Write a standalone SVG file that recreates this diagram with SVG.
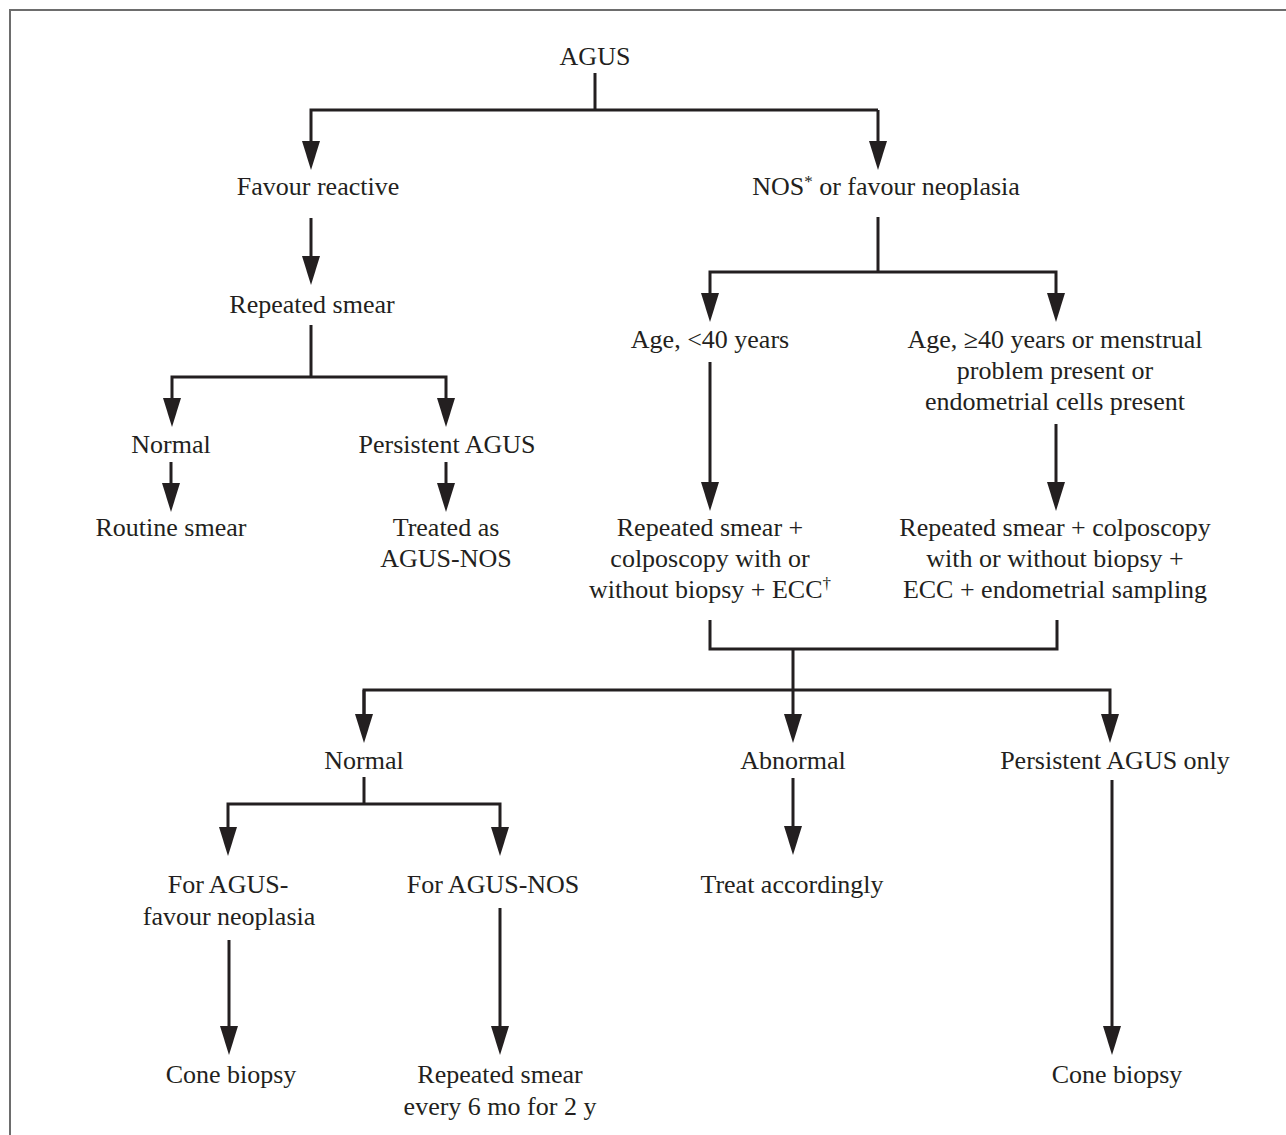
<svg xmlns="http://www.w3.org/2000/svg" width="1286" height="1135" viewBox="0 0 1286 1135">
<style>
text{font-family:"Liberation Serif","Times New Roman",serif;font-size:26px;fill:#231f20;text-anchor:middle}
.c{fill:none;stroke:#231f20;stroke-width:3}
.sup{font-size:17px}
</style>
<defs>
<marker id="ah" viewBox="0 0 29 18" refX="9" refY="9" markerWidth="29" markerHeight="18" markerUnits="userSpaceOnUse" orient="auto">
<path d="M0,0 L29,9 L0,18 z" fill="#231f20"/>
</marker>
</defs>
<rect width="1286" height="1135" fill="#fff"/>
<path d="M10,1135 V10 H1286" fill="none" stroke="#6d6d6d" stroke-width="2"/>

<g id="connectors">
<path class="c" d="M595,73 V110"/>
<path class="c" d="M878,110 H311 V150" marker-end="url(#ah)"/>
<path class="c" d="M878,110 V150" marker-end="url(#ah)"/>
<path class="c" d="M311,218 V265" marker-end="url(#ah)"/>
<path class="c" d="M311,325 V377"/>
<path class="c" d="M311,377 H172 V407" marker-end="url(#ah)"/>
<path class="c" d="M311,377 H446 V407" marker-end="url(#ah)"/>
<path class="c" d="M171,462 V492" marker-end="url(#ah)"/>
<path class="c" d="M446,462 V492" marker-end="url(#ah)"/>
<path class="c" d="M878,217 V272"/>
<path class="c" d="M878,272 H710 V302" marker-end="url(#ah)"/>
<path class="c" d="M878,272 H1056 V302" marker-end="url(#ah)"/>
<path class="c" d="M710,362 V491" marker-end="url(#ah)"/>
<path class="c" d="M1056,424 V491" marker-end="url(#ah)"/>
<path class="c" d="M710,620 V649 H1057 V620"/>
<path class="c" d="M793,649 V723" marker-end="url(#ah)"/>
<path class="c" d="M364,723 V690 H1110 V723" marker-end="url(#ah)"/>
<path class="c" d="M364,690 V723" marker-end="url(#ah)"/>
<path class="c" d="M364,777 V804"/>
<path class="c" d="M364,804 H228 V836" marker-end="url(#ah)"/>
<path class="c" d="M364,804 H500 V836" marker-end="url(#ah)"/>
<path class="c" d="M793,778 V835" marker-end="url(#ah)"/>
<path class="c" d="M229,940 V1035" marker-end="url(#ah)"/>
<path class="c" d="M500,908 V1035" marker-end="url(#ah)"/>
<path class="c" d="M1112,780 V1035" marker-end="url(#ah)"/>
</g>

<g id="n-agus"><text x="595" y="65">AGUS</text></g>
<g id="n-favour-reactive"><text x="318" y="195">Favour reactive</text></g>
<g id="n-nos"><text x="886" y="195">NOS<tspan class="sup" dy="-8">*</tspan><tspan dy="8"> or favour neoplasia</tspan></text></g>
<g id="n-repeated-smear"><text x="312" y="313">Repeated smear</text></g>
<g id="n-normal1"><text x="171" y="453">Normal</text></g>
<g id="n-persistent1"><text x="447" y="453">Persistent AGUS</text></g>
<g id="n-routine"><text x="171" y="536">Routine smear</text></g>
<g id="n-treated"><text x="446" y="536">Treated as</text><text x="446" y="567">AGUS-NOS</text></g>
<g id="n-age-lt40"><text x="710" y="348">Age, &lt;40 years</text></g>
<g id="n-age-ge40"><text x="1055" y="348">Age, ≥40 years or menstrual</text><text x="1055" y="379">problem present or</text><text x="1055" y="410">endometrial cells present</text></g>
<g id="n-rep-colpo1"><text x="710" y="536">Repeated smear +</text><text x="710" y="567">colposcopy with or</text><text x="710" y="598">without biopsy + ECC<tspan class="sup" dy="-9">†</tspan></text></g>
<g id="n-rep-colpo2"><text x="1055" y="536">Repeated smear + colposcopy</text><text x="1055" y="567">with or without biopsy +</text><text x="1055" y="598">ECC + endometrial sampling</text></g>
<g id="n-normal2"><text x="364" y="769">Normal</text></g>
<g id="n-abnormal"><text x="793" y="769">Abnormal</text></g>
<g id="n-persistent2"><text x="1115" y="769">Persistent AGUS only</text></g>
<g id="n-for-neo"><text x="228" y="893">For AGUS-</text><text x="229" y="925">favour neoplasia</text></g>
<g id="n-for-nos"><text x="493" y="893">For AGUS-NOS</text></g>
<g id="n-treat"><text x="792" y="893">Treat accordingly</text></g>
<g id="n-cone1"><text x="231" y="1083">Cone biopsy</text></g>
<g id="n-rep-every"><text x="500" y="1083">Repeated smear</text><text x="500" y="1115">every 6 mo for 2 y</text></g>
<g id="n-cone2"><text x="1117" y="1083">Cone biopsy</text></g>
</svg>
